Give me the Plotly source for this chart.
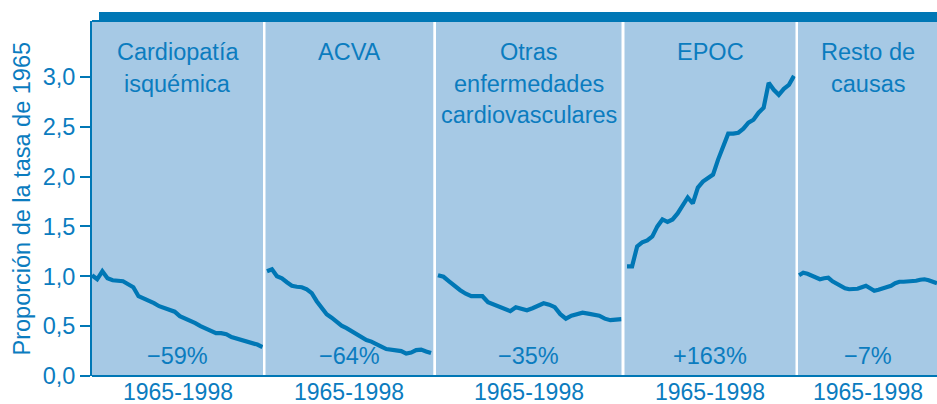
import plotly.graph_objects as go

# ---------------- data ----------------
years = list(range(1965, 1999))

panel_titles = [
    ["Cardiopatía", "isquémica"],
    ["ACVA"],
    ["Otras", "enfermedades", "cardiovasculares"],
    ["EPOC"],
    ["Resto de", "causas"],
]
changes = ["−59%", "−64%", "−35%", "+163%", "−7%"]
period_label = "1965-1998"

cardiopatia_isquemica = [1.01, 0.97, 1.05, 0.98, 0.96, 0.955, 0.95, 0.92, 0.89, 0.80,
                         0.78, 0.76, 0.73, 0.70, 0.685, 0.67, 0.645, 0.60, 0.58, 0.56,
                         0.53, 0.50, 0.475, 0.45, 0.43, 0.43, 0.42, 0.39, 0.375, 0.365,
                         0.355, 0.34, 0.315, 0.29]
acva = [1.05, 1.07, 1.00, 0.98, 0.94, 0.905, 0.895, 0.89, 0.87, 0.83,
        0.75, 0.68, 0.62, 0.585, 0.54, 0.505, 0.48, 0.45, 0.415, 0.385,
        0.36, 0.345, 0.325, 0.295, 0.27, 0.26, 0.26, 0.25, 0.225, 0.235,
        0.26, 0.265, 0.245, 0.23]
otras_cardiovasculares = [1.01, 0.995, 0.95, 0.90, 0.86, 0.825, 0.80, 0.80, 0.80, 0.74,
                          0.715, 0.69, 0.665, 0.65, 0.69, 0.67, 0.66, 0.68, 0.705, 0.73,
                          0.715, 0.69, 0.62, 0.575, 0.605, 0.625, 0.635, 0.625, 0.615, 0.605,
                          0.575, 0.56, 0.565, 0.57]
epoc = [1.10, 1.10, 1.30, 1.34, 1.36, 1.40, 1.50, 1.57, 1.545, 1.57,
        1.63, 1.71, 1.79, 1.73, 1.89, 1.95, 1.99, 2.02, 2.17, 2.29,
        2.43, 2.43, 2.44, 2.48, 2.54, 2.57, 2.64, 2.69, 2.94, 2.87,
        2.82, 2.88, 2.92, 3.01]
resto_causas = [1.01, 1.035, 1.025, 1.01, 0.99, 0.97, 0.98, 0.985, 0.95, 0.925,
                0.90, 0.88, 0.87, 0.87, 0.875, 0.89, 0.905, 0.88, 0.855, 0.865,
                0.875, 0.89, 0.905, 0.93, 0.945, 0.945, 0.945, 0.945, 0.955, 0.965,
                0.97, 0.96, 0.945, 0.93]
series = [cardiopatia_isquemica, acva, otras_cardiovasculares, epoc, resto_causas]

y_ticks = [0, 0.5, 1.0, 1.5, 2.0, 2.5, 3.0]
y_tick_labels = ["0,0", "0,5", "1,0", "1,5", "2,0", "2,5", "3,0"]
y_title = "Proporción de la tasa de 1965"

# ---------------- style / layout ----------------
W, H = 937, 404
ML, MR, MT, MB = 92, 0, 21, 28
PW = W - ML - MR
PH = H - MT - MB

DARK = "#0077b5"
TEXT = "#0b7cbf"
BG = "#a6c9e5"
FONT = "Liberation Sans, Arial, sans-serif"
FS = 23.5

# panel pixel extents (left, right) in figure pixels
panel_px = [(92, 263), (265.5, 433.3), (436, 621.5), (624.5, 795.5), (798, 937)]
x_ranges = [(1965.0, 1998.1), (1964.7, 1998.45), (1964.65, 1998.0),
            (1964.5, 1998.3), (1964.75, 1998.0)]

def px2paper(px):
    return (px - ML) / PW

fig = go.Figure()
layout = dict(
    width=W, height=H,
    margin=dict(l=ML, r=MR, t=MT, b=MB, pad=0),
    paper_bgcolor="white",
    plot_bgcolor=BG,
    showlegend=False,
    font=dict(family=FONT, color=TEXT, size=FS),
)

annotations = []
for k in range(5):
    ax = "" if k == 0 else str(k + 1)
    fig.add_trace(go.Scatter(
        x=years, y=series[k], mode="lines",
        line=dict(color=DARK, width=4.2),
        xaxis="x" + ax, yaxis="y", hoverinfo="skip",
    ))
    r0, r1 = x_ranges[k]
    layout["xaxis" + ax] = dict(
        domain=[max(0, px2paper(panel_px[k][0])), min(1, px2paper(panel_px[k][1]))],
        range=[r0, r1], anchor="y",
        showgrid=False, zeroline=False, showline=False, ticks="",
        showticklabels=False,
        fixedrange=True,
    )
    dref = "x" + ax + " domain"
    line_y = [52, 83.5, 115]
    for i, t in enumerate(panel_titles[k]):
        annotations.append(dict(
            text=t, xref=dref, x=0.5, yref="paper", y=1,
            yshift=-(line_y[i] - MT), xanchor="center", yanchor="middle",
            showarrow=False, font=dict(family=FONT, size=FS, color=TEXT),
        ))
    annotations.append(dict(
        text=changes[k], xref=dref, x=0.5, yref="paper", y=0, yshift=20,
        xanchor="center", yanchor="middle", showarrow=False,
        font=dict(family=FONT, size=FS, color=TEXT),
    ))
    # period label under each panel
    annotations.append(dict(
        text=period_label, xref=dref, x=0.5, yref="paper", y=0, yshift=-(391.5 - (H - MB)),
        xanchor="center", yanchor="middle", showarrow=False,
        font=dict(family=FONT, size=23, color=TEXT),
    ))

annotations.append(dict(
    text=y_title, xref="paper", x=0, xshift=21 - ML, xanchor="center",
    yref="paper", y=0.5, yanchor="middle", textangle=-90, showarrow=False,
    font=dict(family=FONT, size=FS, color=TEXT),
))

layout["yaxis"] = dict(
    anchor="x", range=[0, 3.56],
    tickvals=y_ticks, ticktext=y_tick_labels,
    ticks="outside", ticklen=10, tickwidth=2, tickcolor=DARK,
    showline=True, linewidth=2, linecolor=DARK,
    showgrid=False, zeroline=False,
    tickfont=dict(family=FONT, size=FS, color=TEXT),
    fixedrange=True,
)

layout["shapes"] = [
    # bottom axis line spanning all panels
    dict(type="line", xref="paper", yref="paper", x0=0, x1=1, y0=0, y1=0,
         line=dict(color=DARK, width=2)),
    # top border
    dict(type="line", xref="paper", yref="paper", x0=0, x1=1, y0=1, y1=1,
         line=dict(color=DARK, width=2)),
    # thick top bar
    dict(type="rect", xref="paper", yref="paper",
         x0=px2paper(99), x1=1, y0=1, y1=1 + 9 / PH,
         fillcolor=DARK, line=dict(width=0)),
]
layout["annotations"] = annotations

fig.update_layout(**layout)
fig.write_html(
    "out.html",
    config={"displayModeBar": False},
    post_script="document.body.style.margin='0';document.body.style.overflow='hidden';",
)
